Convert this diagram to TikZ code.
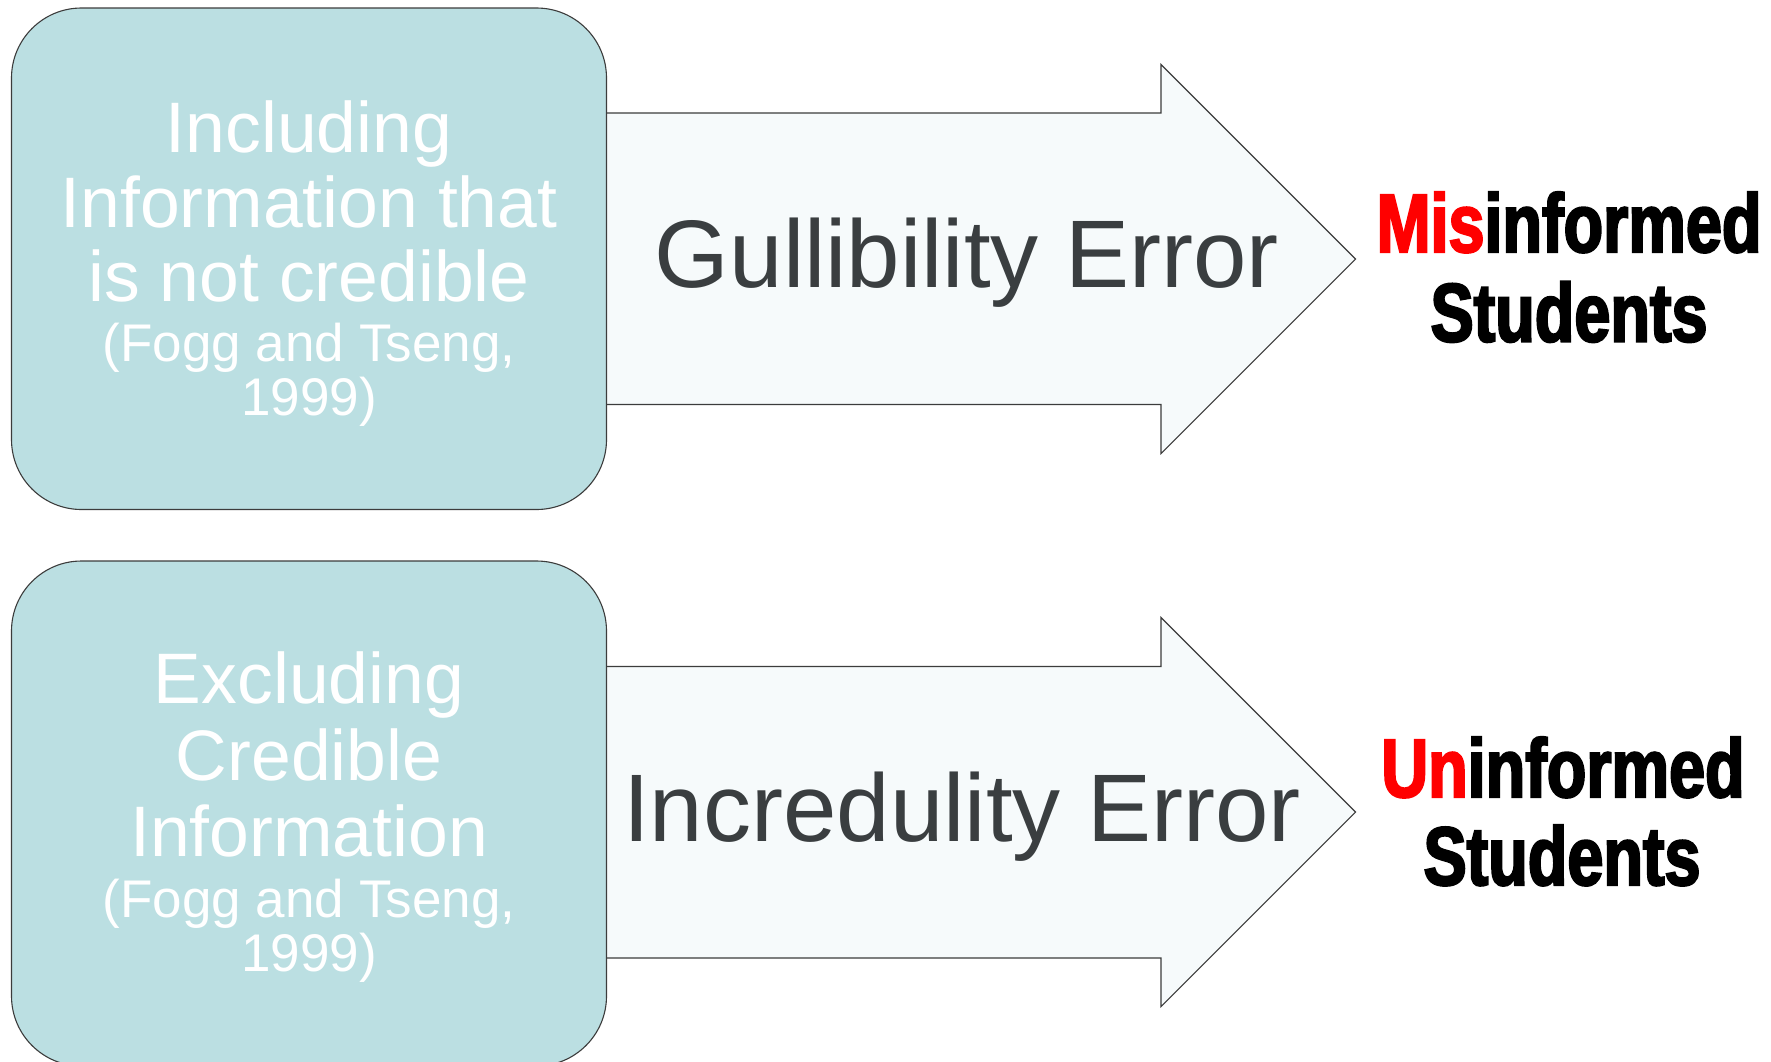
\documentclass[tikz,border=0pt]{standalone}
\usepackage{fontspec}
\setmainfont{Liberation Sans}
\newfontfamily\impfont[FakeStretch=0.78,FakeBold=2.6]{Liberation Sans Bold}
\definecolor{boxfill}{HTML}{BBDFE2}
\definecolor{arrowfill}{HTML}{F6FAFB}
\definecolor{darktext}{HTML}{3A3E40}
\definecolor{edge}{HTML}{3C3C3C}
\definecolor{redtxt}{HTML}{FF0000}
\tikzset{
  cause/.style={fill=boxfill, draw=edge, line width=1.1pt, rounded corners=70pt},
  blockarrow/.style={fill=arrowfill, draw=edge, line width=1.1pt},
  bigline/.style={inner sep=0pt, anchor=base, text=white, font=\fontsize{71.5}{75}\selectfont},
  citeline/.style={inner sep=0pt, anchor=base, text=white, font=\fontsize{53}{55}\selectfont},
  errlabel/.style={inner sep=0pt, anchor=base, text=darktext, font=\fontsize{96}{100}\selectfont},
  resline/.style={inner sep=0pt, anchor=base, text=black, font=\impfont\fontsize{83}{86}\selectfont}
}
\begin{document}
\begin{tikzpicture}[x=1pt,y=-1pt]
\useasboundingbox (0,0) rectangle (1771,1061);
\clip (0,0) rectangle (1771,1061);
\fill[white] (0,0) rectangle (1771,1061);

% arrows
\draw[blockarrow] (560,113) -- (1161,113) -- (1161,64.5) -- (1355.5,259) -- (1161,453.5) -- (1161,404.5) -- (560,404.5) -- cycle;
\draw[blockarrow] (560,666.5) -- (1161,666.5) -- (1161,617.5) -- (1355.5,812) -- (1161,1006.5) -- (1161,958) -- (560,958) -- cycle;

% cause boxes
\draw[cause] (11.5,8) rectangle (606.5,509.5);
\draw[cause] (11.5,561) rectangle (606.5,1066);

% top box text
\node[bigline] (a1) at (309,152.7) {Including};
\node[bigline] (a2) at (309,227.7) {Information that};
\node[bigline] (a3) at (309,301.7) {is not credible};
\node[citeline] (a4) at (309,361) {(Fogg and Tseng,};
\node[citeline] (a5) at (309,415) {1999)};

% bottom box text
\node[bigline] (b1) at (309,703.3) {Excluding};
\node[bigline] (b2) at (309,780) {Credible};
\node[bigline] (b3) at (309,856.7) {Information};
\node[citeline] (b4) at (309,917.7) {(Fogg and Tseng,};
\node[citeline] (b5) at (309,971.7) {1999)};

% arrow labels
\node[errlabel] (g) at (967,287) {Gullibility Error};
\node[errlabel] (i) at (962,841) {Incredulity Error};

% results
\node[resline] (m1) at (1569,252) {\textcolor{redtxt}{Mis}informed};
\node[resline] (m2) at (1569,341.5) {Students};
\node[resline] (u1) at (1563,797) {\textcolor{redtxt}{Un}informed};
\node[resline] (u2) at (1562,885) {Students};
\end{tikzpicture}
\end{document}
